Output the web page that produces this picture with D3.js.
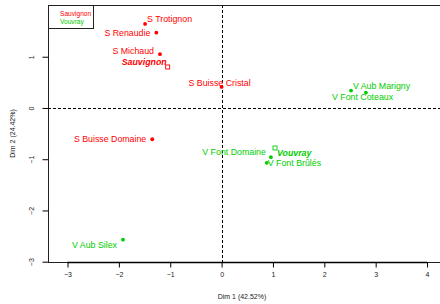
<!DOCTYPE html>
<html>
<head>
<meta charset="utf-8">
<script src="https://cdn.jsdelivr.net/npm/d3@7"></script>
<style>
  body { margin: 0; background: #fff; }
  text { font-family: "Liberation Sans", Arial, sans-serif; }
</style>
</head>
<body>
<div id="chart"></div>
<script>
// wines (individuals)
var wines = ['S Michaud', 'S Renaudie', 'S Trotignon', 'S Buisse Domaine', 'S Buisse Cristal',
             'V Aub Silex', 'V Aub Marigny', 'V Font Domaine', 'V Font Brûlés', 'V Font Coteaux'];
var dim1 = [-1.20, -1.27, -1.49, -1.35, 0.00, -1.92, 2.81, 0.96, 0.88, 2.52];
var dim2 = [1.05, 1.47, 1.64, -0.61, 0.41, -2.57, 0.30, -0.96, -1.07, 0.34];
var origin = ['Sauvignon', 'Sauvignon', 'Sauvignon', 'Sauvignon', 'Sauvignon',
              'Vouvray', 'Vouvray', 'Vouvray', 'Vouvray', 'Vouvray'];

// group centres
var groups = ['Sauvignon', 'Vouvray'];
var groupDim1 = [-1.05, 1.04];
var groupDim2 = [0.80, -0.78];

var xTicks = [-3, -2, -1, 0, 1, 2, 3, 4];
var yTicks = [-3, -2, -1, 0, 1];

var colors = { 'Sauvignon': '#ff0000', 'Vouvray': '#00cd00' };

// where each label sits next to its point (dx, dy, anchor)
var labelPos = {
  'S Trotignon': [2, -5.5, 'start'],
  'S Renaudie': [-6, 0, 'end'],
  'S Michaud': [-6, -3.5, 'end'],
  'S Buisse Domaine': [-6, 0, 'end'],
  'S Buisse Cristal': [-2, -4.5, 'middle'],
  'V Aub Silex': [-6, 5, 'end'],
  'V Aub Marigny': [-13, -7, 'start'],
  'V Font Domaine': [-5, -5, 'end'],
  'V Font Brûlés': [1, 0.5, 'start'],
  'V Font Coteaux': [-19, 6.5, 'start'],
  'Sauvignon': [-1, -5, 'end'],
  'Vouvray': [2, 4.5, 'start']
};

var W = 440, H = 304;
var pLeft = 48, pRight = 445, pTop = 5, pBottom = 262;
var fmt = d3.format('d');

var svg = d3.select('#chart').append('svg')
  .attr('width', W)
  .attr('height', H);

var x = d3.scaleLinear().domain([-3.38, 4.35]).range([pLeft, pRight]);
var y = d3.scaleLinear().domain([-3, 2]).range([pBottom - 0.3, pTop + 0.5]);

// zero lines
svg.append('line')
  .attr('x1', pLeft).attr('x2', pRight)
  .attr('y1', Math.round(y(0)) + 0.5).attr('y2', Math.round(y(0)) + 0.5)
  .attr('stroke', '#000').attr('stroke-width', 1)
  .attr('stroke-dasharray', '3,2');
svg.append('line')
  .attr('x1', Math.round(x(0)) + 0.5).attr('x2', Math.round(x(0)) + 0.5)
  .attr('y1', pTop).attr('y2', pBottom)
  .attr('stroke', '#000').attr('stroke-width', 1)
  .attr('stroke-dasharray', '3,2');

// box
svg.append('rect')
  .attr('x', pLeft + 0.5).attr('y', pTop + 0.5)
  .attr('width', pRight - pLeft).attr('height', pBottom - pTop)
  .attr('fill', 'none').attr('stroke', '#222').attr('stroke-width', 1);

// axes
var xAxis = svg.append('g')
  .attr('transform', 'translate(0,' + (pBottom + 0.5) + ')')
  .call(d3.axisBottom(x).tickValues(xTicks).tickFormat(fmt).tickSize(5).tickPadding(5));
xAxis.select('.domain').attr('d', 'M' + x(-3) + ',0H' + x(4)).attr('stroke-width', 1.3);
xAxis.selectAll('text').attr('font-size', 7).attr('font-family', '"Liberation Sans", Arial, sans-serif').attr('fill', '#222');

var yAxis = svg.append('g')
  .attr('transform', 'translate(' + (pLeft + 0.5) + ',0)')
  .call(d3.axisLeft(y).tickValues(yTicks).tickFormat(fmt).tickSize(6).tickPadding(0));
yAxis.select('.domain').remove();
yAxis.selectAll('text')
  .attr('font-size', 7)
  .attr('font-family', '"Liberation Sans", Arial, sans-serif')
  .attr('fill', '#222')
  .attr('x', null).attr('dy', null)
  .attr('text-anchor', 'middle')
  .attr('transform', 'translate(-14.5,0) rotate(-90)');

// axis titles
svg.append('text')
  .attr('x', 242).attr('y', 299)
  .attr('text-anchor', 'middle')
  .attr('font-size', 7).attr('fill', '#222')
  .text('Dim 1 (42.52%)');
svg.append('text')
  .attr('transform', 'translate(15,' + ((pTop + pBottom) / 2) + ') rotate(-90)')
  .attr('text-anchor', 'middle')
  .attr('font-size', 7).attr('fill', '#222')
  .text('Dim 2 (24.42%)');

// individuals
var pts = wines.map(function (n, i) {
  return { name: n, d1: dim1[i], d2: dim2[i], g: origin[i] };
});

svg.selectAll('circle.ind').data(pts)
  .enter().append('circle')
  .attr('class', 'ind')
  .attr('cx', function (d) { return x(d.d1); })
  .attr('cy', function (d) { return y(d.d2); })
  .attr('r', 1.9)
  .attr('fill', function (d) { return colors[d.g]; });

svg.selectAll('text.ind').data(pts)
  .enter().append('text')
  .attr('class', 'ind')
  .attr('x', function (d) { return x(d.d1) + labelPos[d.name][0]; })
  .attr('y', function (d) { return y(d.d2) + labelPos[d.name][1] + 3.1; })
  .attr('text-anchor', function (d) { return labelPos[d.name][2]; })
  .attr('font-size', 8.8)
  .attr('fill', function (d) { return colors[d.g]; })
  .text(function (d) { return d.name; });

// group centres
var cent = groups.map(function (n, i) {
  return { name: n, d1: groupDim1[i], d2: groupDim2[i] };
});

svg.selectAll('rect.cent').data(cent)
  .enter().append('rect')
  .attr('class', 'cent')
  .attr('x', function (d) { return x(d.d1) - 2; })
  .attr('y', function (d) { return y(d.d2) - 2; })
  .attr('width', 4).attr('height', 4)
  .attr('fill', 'none')
  .attr('stroke-width', 0.9)
  .attr('stroke', function (d) { return colors[d.name]; });

svg.selectAll('text.cent').data(cent)
  .enter().append('text')
  .attr('class', 'cent')
  .attr('x', function (d) { return x(d.d1) + labelPos[d.name][0]; })
  .attr('y', function (d) { return y(d.d2) + labelPos[d.name][1] + 3.1; })
  .attr('text-anchor', function (d) { return labelPos[d.name][2]; })
  .attr('font-size', 8.8)
  .attr('font-weight', 'bold')
  .attr('font-style', 'italic')
  .attr('fill', function (d) { return colors[d.name]; })
  .text(function (d) { return d.name; });

// legend
svg.append('rect')
  .attr('x', pLeft + 0.5).attr('y', pTop + 0.5)
  .attr('width', 45).attr('height', 23)
  .attr('fill', '#fff').attr('stroke', '#222').attr('stroke-width', 1);
svg.selectAll('text.leg').data(groups)
  .enter().append('text')
  .attr('class', 'leg')
  .attr('x', 60)
  .attr('y', function (d, i) { return 16 + i * 7.5; })
  .attr('font-size', 6.6)
  .attr('fill', function (d) { return colors[d]; })
  .text(function (d) { return d; });
</script>
</body>
</html>
